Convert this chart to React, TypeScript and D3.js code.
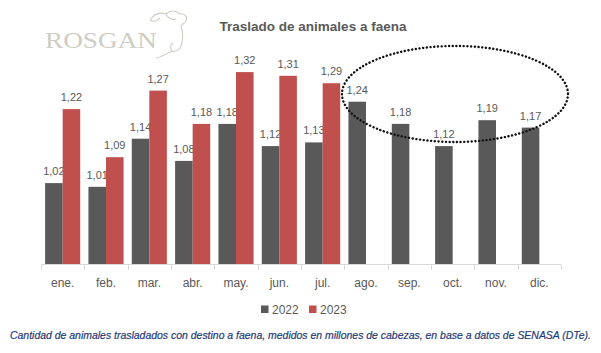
import { useRef, useEffect } from 'react'
import * as d3 from 'd3'

const months = ['ene.', 'feb.', 'mar.', 'abr.', 'may.', 'jun.', 'jul.', 'ago.', 'sep.', 'oct.', 'nov.', 'dic.']
const values2022 = [1.02, 1.01, 1.14, 1.08, 1.18, 1.12, 1.13, 1.24, 1.18, 1.12, 1.19, 1.17]
const values2023 = [1.22, 1.09, 1.27, 1.18, 1.32, 1.31, 1.29]
const seriesNames = ['2022', '2023']
const seriesColors = ['#595959', '#c0504d']

const W = 601
const H = 353

export default function App() {
  const svgRef = useRef<SVGSVGElement>(null)

  useEffect(() => {
    const svg = d3.select(svgRef.current)
    svg.selectAll('*').remove()

    const x = d3.scaleBand<string>().domain(months).range([41, 561]).paddingInner(0.19).paddingOuter(0.095)
    const sub = d3.scaleBand<string>().domain(seriesNames).range([0, x.bandwidth()])
    const y = d3.scaleLinear().domain([0.8, 1.4]).range([264.5, 42.5])
    const fmt = (v: number) => v.toFixed(2).replace('.', ',')

    // logo
    const logo = svg.append('g')
    logo.append('text')
      .attr('x', 45).attr('y', 48)
      .attr('textLength', 112).attr('lengthAdjust', 'spacingAndGlyphs')
      .attr('font-family', 'Liberation Serif, serif').attr('font-size', 23)
      .attr('fill', '#cfcdc5')
      .text('ROSGAN')
    logo.append('path')
      .attr('d', 'M150,20 C154,14 160,12 166,14 C170,10 176,10 180,14 C184,13 188,16 186,21 C184,24 182,24 181,26 C183,32 183,40 181,46 C180,50 176,52 172,51 C168,53 162,57 156,58 M150,20 C153,22 157,21 160,18 M166,14 C168,18 172,20 176,19 M172,51 C170,48 170,45 173,43')
      .attr('fill', 'none').attr('stroke', '#cfcdc5').attr('stroke-width', 1.1)

    // title
    svg.append('text')
      .attr('x', 313).attr('y', 31)
      .attr('text-anchor', 'middle')
      .attr('font-family', 'Liberation Sans, Arial, sans-serif')
      .attr('font-size', 13.5).attr('font-weight', 'bold')
      .attr('fill', '#595959')
      .text('Traslado de animales a faena')

    const series = [values2022, values2023]
    series.forEach((vals, si) => {
      const g = svg.append('g')
      const data = vals.map((v, i) => ({ m: months[i], v }))
      g.selectAll('rect').data(data).join('rect')
        .attr('x', d => (x(d.m) as number) + (sub(seriesNames[si]) as number))
        .attr('y', d => y(d.v))
        .attr('width', sub.bandwidth())
        .attr('height', d => y(0.8) - y(d.v))
        .attr('fill', seriesColors[si])
      g.selectAll('text').data(data).join('text')
        .attr('x', d => (x(d.m) as number) + (sub(seriesNames[si]) as number) + sub.bandwidth() / 2)
        .attr('y', d => y(d.v) - 8)
        .attr('text-anchor', 'middle')
        .attr('font-family', 'Liberation Sans, Arial, sans-serif')
        .attr('font-size', 11)
        .attr('fill', '#595959')
        .text(d => fmt(d.v))
    })

    // x axis
    const ax = svg.append('g')
    ax.append('line')
      .attr('x1', 41).attr('x2', 561).attr('y1', 264.5).attr('y2', 264.5)
      .attr('stroke', '#d9d9d9')
    const step = x.step()
    d3.range(months.length + 1).forEach(i => {
      const tx = Math.round(41 + i * step) + 0.5
      ax.append('line')
        .attr('x1', tx).attr('x2', tx).attr('y1', 264.5).attr('y2', 269.5)
        .attr('stroke', '#d9d9d9')
    })
    ax.selectAll('text.m').data(months).join('text')
      .attr('class', 'm')
      .attr('x', d => (x(d) as number) + x.bandwidth() / 2)
      .attr('y', 287)
      .attr('text-anchor', 'middle')
      .attr('font-family', 'Liberation Sans, Arial, sans-serif')
      .attr('font-size', 12)
      .attr('fill', '#595959')
      .text(d => d)

    // legend
    const legendX = [261, 309]
    seriesNames.forEach((name, i) => {
      svg.append('rect')
        .attr('x', legendX[i]).attr('y', 305.5).attr('width', 7.5).attr('height', 7.5)
        .attr('fill', seriesColors[i])
      svg.append('text')
        .attr('x', legendX[i] + 11).attr('y', 313.5)
        .attr('font-family', 'Liberation Sans, Arial, sans-serif')
        .attr('font-size', 12)
        .attr('fill', '#595959')
        .text(name)
    })

    // dotted ellipse
    svg.append('ellipse')
      .attr('cx', 455).attr('cy', 94).attr('rx', 113).attr('ry', 48)
      .attr('fill', 'none').attr('stroke', '#111')
      .attr('stroke-width', 2.4).attr('stroke-linecap', 'round')
      .attr('stroke-dasharray', '0.1 3.6')

    // caption
    svg.append('text')
      .attr('x', 10).attr('y', 339)
      .attr('textLength', 581).attr('lengthAdjust', 'spacingAndGlyphs')
      .attr('font-family', 'Liberation Sans, Arial, sans-serif')
      .attr('font-size', 10.5).attr('font-style', 'italic')
      .attr('fill', '#1f3a78')
      .attr('stroke', '#1f3a78').attr('stroke-width', 0.2)
      .text('Cantidad de animales trasladados con destino a faena, medidos en millones de cabezas, en base a datos de SENASA (DTe).')
  }, [])

  return <svg ref={svgRef} width={W} height={H} style={{ position: 'absolute', left: 0, top: 0, background: '#fff' }} />
}
